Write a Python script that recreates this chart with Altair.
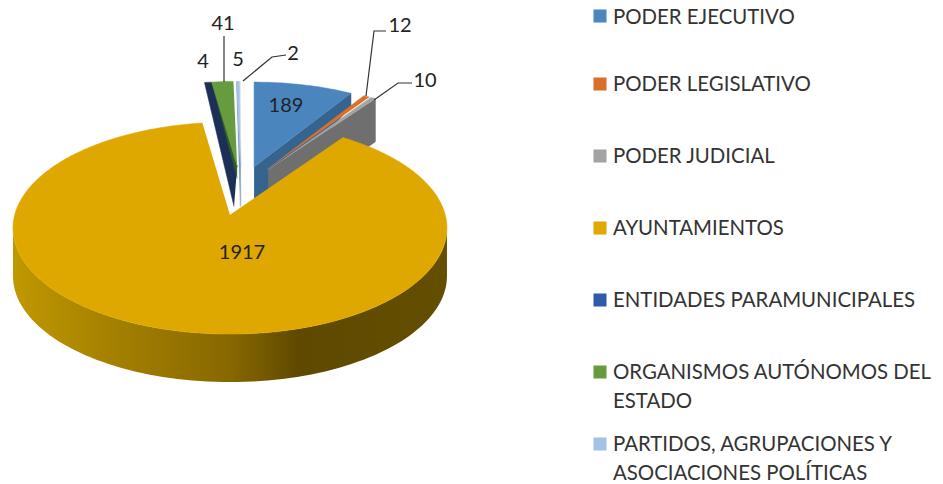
import math
import altair as alt
import pandas as pd

names = ["PODER EJECUTIVO", "PODER LEGISLATIVO", "PODER JUDICIAL", "AYUNTAMIENTOS",
         "ENTIDADES PARAMUNICIPALES", "ORGANISMOS AUTÓNOMOS DEL|ESTADO",
         "PARTIDOS, AGRUPACIONES Y|ASOCIACIONES POLÍTICAS", ""]
values = [189, 12, 10, 1917, 4, 41, 5, 2]
face_colors = ["#4a86bd", "#d9702a", "#a3a3a3", "#dfa800", "#1f3864", "#669c3f", "#a3c3e6", "#e6edf5"]
wall_colors = ["#35648f", "#b65a20", "#6f6f6f", "#8a6a00", "#1b2f57", "#2f5a2a", "#6f8fb0", "#8a9aaa"]
legend_colors = ["#4a86bd", "#d9702a", "#a3a3a3", "#e0a800", "#2f5ca8", "#669c3f", "#a3c3e6"]

# wall depth at the rim and at the apex; which radial edge shows
walls = {0: (13, 48, "end"), 1: (0, 0, "end"), 2: (43, 48, "end"),
         4: (0, 40, "start"), 5: (0, 12, "start"), 6: (0, 40, "start"), 7: (0, 40, "start")}
A, B = 217, 106
X0, Y0, EXPLODE, TILT = 241, 208, 48.6, 0.425
APEX_UP = 21
DEPTH = 48
GOLD = 3
NAVY = 4
GREEN = 5

X = alt.Scale(domain=[8, 935])
Y = alt.Scale(domain=[484, 8])


def poly_chart(points, fill):
    df = pd.DataFrame({"x": [p[0] for p in points], "y": [p[1] for p in points],
                       "o": list(range(len(points)))})
    return alt.Chart(df).mark_line(color=fill, fill=fill, strokeWidth=0.5, interpolate="linear").encode(
        x=alt.X("x:Q", scale=X, axis=None),
        y=alt.Y("y:Q", scale=Y, axis=None),
        order="o:Q",
    )


total = sum(values)
cum = [0]
for v in values:
    cum.append(cum[-1] + v)


def signed(a):
    return a - 360 if a > 180 else a


layers = []
pieces = {}
for i, v in enumerate(values):
    a0 = cum[i] / total * 360
    a1 = cum[i + 1] / total * 360
    mid = math.radians((a0 + a1) / 2)
    cx = X0 + EXPLODE * math.sin(mid)
    cy = Y0 - EXPLODE * TILT * math.cos(mid)
    if i == GOLD:
        t0, t1 = a0 * 0.9, 360 + signed(a1) * 0.85
        apex = (cx, cy - 13)
    else:
        t0, t1 = signed(a0) * 0.85, signed(a1) * 0.85
        if i == 7:
            t1 = 0.0
        apex = (cx, cy - APEX_UP)
    n = max(2, int(abs(t1 - t0)) + 2)
    rim = []
    for k in range(n):
        t = math.radians(t0 + (t1 - t0) * k / (n - 1))
        rim.append((cx + A * math.sin(t), cy - B * math.cos(t)))
    pieces[i] = (apex, rim, cx, cy)


def wall(i):
    apex, rim, _, _ = pieces[i]
    d1, d2, side = walls[i]
    p = rim[-1] if side == "end" else rim[0]
    if i == NAVY:
        # the navy wedge fills the gap up to the green slice's edge
        g_apex, g_rim, _, _ = pieces[GREEN]
        return poly_chart([g_apex, g_rim[0], (p[0] - 2, p[1]), (apex[0], apex[1] + d2)], wall_colors[i])
    return poly_chart([apex, p, (p[0], p[1] + d1), (apex[0], apex[1] + d2)], wall_colors[i])


def face(i):
    apex, rim, _, _ = pieces[i]
    return poly_chart([apex] + rim, face_colors[i])


for i in [0, 1, 2, 7, 6, 4, 5]:
    if walls[i][1] > 0:
        layers.append(wall(i))
    if i != NAVY:
        layers.append(face(i))

# gold outer wall with its shading
_, _, gx, gy = pieces[GOLD]
side_x, side_y, side_y2 = [], [], []
for deg in range(90, 271, 2):
    t = math.radians(deg)
    side_x.append(gx + A * math.sin(t))
    side_y.append(gy - B * math.cos(t))
    side_y2.append(gy - B * math.cos(t) + DEPTH)
gold_side = alt.Chart(pd.DataFrame({"x": side_x, "y": side_y, "y2": side_y2})).mark_area(
    color=alt.Gradient(
        gradient="linear", x1=0, x2=1, y1=0, y2=0,
        stops=[
            alt.GradientStop(offset=0, color="#c09800"),
            alt.GradientStop(offset=0.2, color="#a88300"),
            alt.GradientStop(offset=0.5, color="#876800"),
            alt.GradientStop(offset=0.66, color="#5f4900"),
            alt.GradientStop(offset=1, color="#644e00"),
        ],
    )
).encode(
    x=alt.X("x:Q", scale=X, axis=None),
    y=alt.Y("y:Q", scale=Y, axis=None),
    y2="y2:Q",
)
layers.append(gold_side)
layers.append(face(GOLD))

# leader lines
leaders = [
    [(224, 36), (224, 82)],
    [(386, 31), (374, 31), (366, 96)],
    [(412, 83), (398, 83), (374, 100)],
    [(286, 55), (272, 57), (243, 81)],
]
for seg in leaders:
    df = pd.DataFrame({"x": [p[0] for p in seg], "y": [p[1] for p in seg], "o": list(range(len(seg)))})
    layers.append(alt.Chart(df).mark_line(color="#333333", strokeWidth=1.2).encode(
        x=alt.X("x:Q", scale=X, axis=None), y=alt.Y("y:Q", scale=Y, axis=None), order="o:Q"))

# data labels
label_text = ["189", "12", "10", "1917", "4", "41", "5", "2"]
label_x = [286, 400, 425, 242, 203, 223, 238, 293]
label_y = [106, 26, 81, 253, 62, 24, 60, 54]
labels = pd.DataFrame({"t": label_text, "x": label_x, "y": label_y})
layers.append(alt.Chart(labels).mark_text(font="Lato", fontSize=20, color="#222222", baseline="middle").encode(
    x=alt.X("x:Q", scale=X, axis=None), y=alt.Y("y:Q", scale=Y, axis=None), text="t:N"))

# legend
row_y = [16, 84, 156, 228, 300, 372, 444]
legend_names = [n for n in names if n]
sq = pd.DataFrame({"y": row_y, "x": [600] * 7, "c": legend_colors})
layers.append(alt.Chart(sq).mark_square(size=170, opacity=1).encode(
    x=alt.X("x:Q", scale=X, axis=None), y=alt.Y("y:Q", scale=Y, axis=None),
    color=alt.Color("c:N", scale=None)))
lt, lx, ly = [], [], []
for n, y in zip(legend_names, row_y):
    for j, part in enumerate(n.split("|")):
        lt.append(part)
        lx.append(613)
        # the top row sits just low enough that its capitals stay inside the page's drawing area
        ly.append(max(y + 1, 18) + j * 29)
leg = pd.DataFrame({"t": lt, "x": lx, "y": ly})
layers.append(alt.Chart(leg).mark_text(font="Lato", fontSize=20.4, color="#333333", align="left", baseline="middle").encode(
    x=alt.X("x:Q", scale=X, axis=None), y=alt.Y("y:Q", scale=Y, axis=None), text="t:N"))

chart = alt.layer(*layers).properties(
    width=927, height=476, padding=0, autosize=alt.AutoSizeParams(type="none"), background="white"
).configure_view(stroke=None)
chart.save("out.html", embed_options={"renderer": "svg", "actions": False})
